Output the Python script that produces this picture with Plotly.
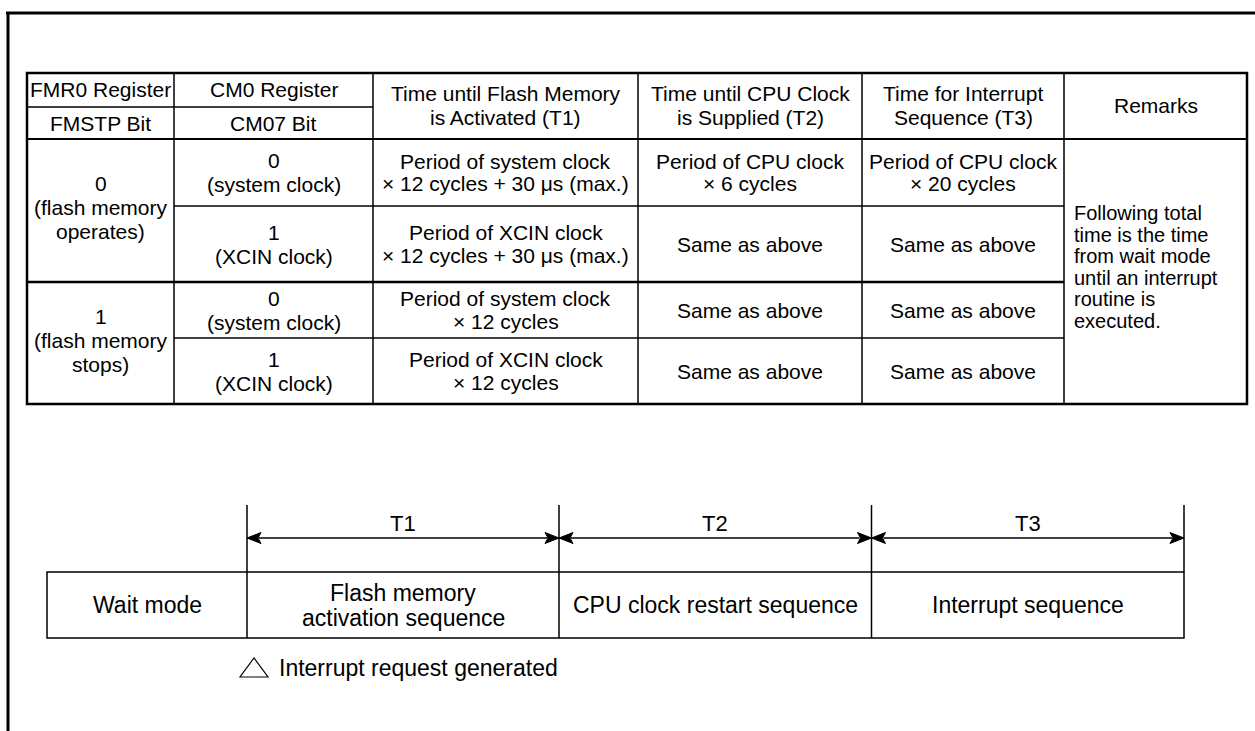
import plotly.graph_objects as go

# ---------------- data (text content) ----------------
header_top = ["FMR0 Register", "CM0 Register"]
header_bottom = ["FMSTP Bit", "CM07 Bit"]
header_span = [
    ["Time until Flash Memory", "is Activated (T1)"],
    ["Time until CPU Clock", "is Supplied (T2)"],
    ["Time for Interrupt", "Sequence (T3)"],
    ["Remarks"],
]
fmstp_groups = [
    ["0", "(flash memory", "operates)"],
    ["1", "(flash memory", "stops)"],
]
cm07_rows = [
    ["0", "(system clock)"],
    ["1", "(XCIN clock)"],
    ["0", "(system clock)"],
    ["1", "(XCIN clock)"],
]
t1_rows = [
    ["Period of system clock", "\u00d7 12 cycles + 30 \u03bcs (max.)"],
    ["Period of XCIN clock", "\u00d7 12 cycles + 30 \u03bcs (max.)"],
    ["Period of system clock", "\u00d7 12 cycles"],
    ["Period of XCIN clock", "\u00d7 12 cycles"],
]
t2_rows = [
    ["Period of CPU clock", "\u00d7 6 cycles"],
    ["Same as above"],
    ["Same as above"],
    ["Same as above"],
]
t3_rows = [
    ["Period of CPU clock", "\u00d7 20 cycles"],
    ["Same as above"],
    ["Same as above"],
    ["Same as above"],
]
remarks = ["Following total", "time is the time", "from wait mode",
           "until an interrupt", "routine is", "executed."]

seq_labels = ["T1", "T2", "T3"]
seq_boxes = [
    ["Wait mode"],
    ["Flash memory", "activation sequence"],
    ["CPU clock restart sequence"],
    ["Interrupt sequence"],
]
interrupt_note = "Interrupt request generated"

# ---------------- layout geometry ----------------
W, H = 1255, 731
XC = [27, 174, 373, 638, 862, 1064, 1247]
YH = [73, 107, 139]
YR = [139, 206, 282, 338, 404]

BX = [47, 247, 559, 871.5, 1184]
BY = [572, 638]
TICK_TOP = 505
ARROW_Y = 538
LABEL_Y = 523

FONT = "Liberation Sans, Arial, sans-serif"
TFS = 21   # table font size
BFS = 23   # bottom diagram font size

shapes = []
annotations = []


def line(x0, y0, x1, y1, w=1.5):
    shapes.append(dict(type="line", x0=x0, y0=y0, x1=x1, y1=y1,
                       xref="x", yref="y", line=dict(color="black", width=w)))


def text_lines(lines, xc, yc, size=TFS, spacing=23, anchor="center"):
    n = len(lines)
    for i, t in enumerate(lines):
        y = yc + (i - (n - 1) / 2) * spacing
        annotations.append(dict(x=xc, y=y, xref="x", yref="y", text=t,
                                showarrow=False, xanchor=anchor, yanchor="middle",
                                font=dict(family=FONT, size=size, color="black")))


# page frame (top and left)
line(6, 13, W + 2, 13, 3)
line(8, 12, 8, H + 2, 3)

# table outer border
shapes.append(dict(type="rect", x0=XC[0], y0=YH[0], x1=XC[-1], y1=YR[-1],
                   xref="x", yref="y", line=dict(color="black", width=2.5)))
# column lines
for x in XC[1:-1]:
    line(x, YH[0], x, YR[-1], 1.5)
# header lines
line(XC[0], YH[1], XC[2], YH[1], 1.5)
line(XC[0], YH[2], XC[-1], YH[2], 2.2)
# body row lines
line(XC[1], YR[1], XC[5], YR[1], 1.5)
line(XC[0], YR[2], XC[5], YR[2], 2.5)
line(XC[1], YR[3], XC[5], YR[3], 1.5)


def cx(i):
    return (XC[i] + XC[i + 1]) / 2


# header text
for i in range(2):
    text_lines([header_top[i]], cx(i), (YH[0] + YH[1]) / 2 - 1)
    text_lines([header_bottom[i]], cx(i), (YH[1] + YH[2]) / 2)
for j, h in enumerate(header_span):
    text_lines(h, cx(j + 2), (YH[0] + YH[2]) / 2 - 1, spacing=24)

# body text
for g, grp in enumerate(fmstp_groups):
    text_lines(grp, cx(0), (YR[2 * g] + YR[2 * g + 2]) / 2 - 3, spacing=24)
for r in range(4):
    yc = (YR[r] + YR[r + 1]) / 2
    text_lines(cm07_rows[r], cx(1), yc, spacing=24)
    text_lines(t1_rows[r], cx(2), yc, spacing=22.5)
    text_lines(t2_rows[r], cx(3), yc, spacing=22.5)
    text_lines(t3_rows[r], cx(4), yc, spacing=22.5)
text_lines(remarks, XC[5] + 8, 267, size=20, spacing=21.5, anchor="left")

# ---------------- bottom sequence diagram ----------------
shapes.append(dict(type="rect", x0=BX[0], y0=BY[0], x1=BX[-1], y1=BY[1],
                   xref="x", yref="y", line=dict(color="black", width=1.5)))
for x in BX[1:-1]:
    line(x, BY[0], x, BY[1], 1.5)
for x in BX[1:]:
    line(x, TICK_TOP, x, BY[0], 1.5)

AL, AW = 14, 5.5
for k in range(3):
    xa, xb = BX[k + 1], BX[k + 2]
    line(xa + AL - 2, ARROW_Y, xb - AL + 2, ARROW_Y, 1.5)
    shapes.append(dict(type="path", xref="x", yref="y",
                       path=f"M {xa} {ARROW_Y} L {xa + AL} {ARROW_Y - AW} L {xa + AL - 3} {ARROW_Y} L {xa + AL} {ARROW_Y + AW} Z",
                       fillcolor="black", line=dict(color="black", width=1)))
    shapes.append(dict(type="path", xref="x", yref="y",
                       path=f"M {xb} {ARROW_Y} L {xb - AL} {ARROW_Y - AW} L {xb - AL + 3} {ARROW_Y} L {xb - AL} {ARROW_Y + AW} Z",
                       fillcolor="black", line=dict(color="black", width=1)))
    text_lines([seq_labels[k]], (xa + xb) / 2, LABEL_Y, size=22)

for k, lines in enumerate(seq_boxes):
    text_lines(lines, (BX[k] + BX[k + 1]) / 2, (BY[0] + BY[1]) / 2, size=BFS, spacing=25)

# interrupt marker triangle + note
shapes.append(dict(type="path", xref="x", yref="y",
                   path="M 240 677 L 268 677 L 254 658 Z",
                   fillcolor="white", line=dict(color="black", width=1.2)))
annotations.append(dict(x=277, y=668, xref="x", yref="y", text=interrupt_note,
                        showarrow=False, xanchor="left", yanchor="middle",
                        font=dict(family=FONT, size=BFS, color="black")))

fig = go.Figure()
fig.update_layout(
    width=W, height=H,
    margin=dict(l=0, r=0, t=0, b=0),
    paper_bgcolor="white", plot_bgcolor="white",
    xaxis=dict(range=[0, W], visible=False, fixedrange=True),
    yaxis=dict(range=[H, 0], visible=False, fixedrange=True),
    shapes=shapes, annotations=annotations, showlegend=False,
)
fig.write_html(
    "out.html",
    config={"displayModeBar": False},
    post_script="document.body.style.margin='0';document.body.style.overflow='hidden';",
)
